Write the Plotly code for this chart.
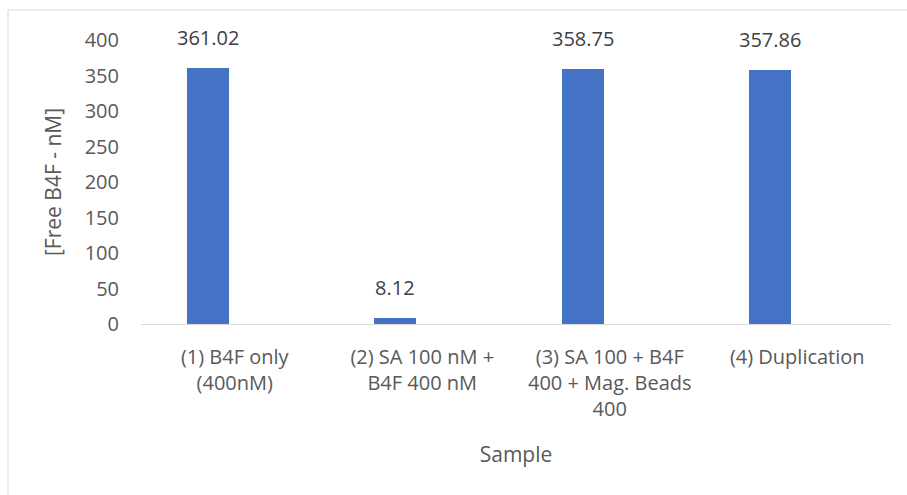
import plotly.graph_objects as go

# Sample categories and measured free B4F concentrations (nM)
categories = [
    "(1) B4F only<br>(400nM)",
    "(2) SA 100 nM +<br>B4F 400 nM",
    "(3) SA 100 + B4F<br>400 + Mag. Beads<br>400",
    "(4) Duplication",
]
free_b4f = [361.02, 8.12, 358.75, 357.86]
y_ticks = [0, 50, 100, 150, 200, 250, 300, 350, 400]

W, H = 907, 495
L, R, T, B = 141, 16, 40, 171

idx = list(range(len(categories)))
bar_shift = -0.143
bar_width = 0.224
bar_x = [i + bar_shift for i in idx]

fig = go.Figure()
fig.add_trace(go.Bar(
    x=bar_x,
    y=free_b4f,
    width=bar_width,
    marker=dict(color="#4472C4", line=dict(width=0)),
    hoverinfo="x+y",
    showlegend=False,
))

# value labels above bars
for xv, yv in zip(bar_x, free_b4f):
    fig.add_annotation(
        x=xv, y=yv, text=f"{yv:.2f}", showarrow=False,
        yanchor="bottom", yshift=15,
        font=dict(family="Open Sans", size=20, color="#404040"),
    )

# chart-area frame (left and top edges)
pw = W - L - R
ph = H - T - B
x_left = (8 - L) / pw
y_top = (H - B - 10) / ph
fig.add_shape(type="line", xref="paper", yref="paper",
              x0=x_left, x1=x_left, y0=y_top, y1=-(B + 5) / ph,
              line=dict(color="#D9D9D9", width=1))
fig.add_shape(type="line", xref="paper", yref="paper",
              x0=x_left, x1=(W + 5 - L) / pw, y0=y_top, y1=y_top,
              line=dict(color="#D9D9D9", width=1))

fig.update_layout(
    width=W, height=H,
    margin=dict(l=L, r=R, t=T, b=B),
    paper_bgcolor="white",
    plot_bgcolor="white",
    font=dict(family="Open Sans", size=20, color="#595959"),
    xaxis=dict(
        range=[-0.5, len(categories) - 0.5],
        tickmode="array", tickvals=idx, ticktext=categories,
        showgrid=False, zeroline=False,
        showline=True, linecolor="#D9D9D9", linewidth=1,
        ticks="", ticklabelstandoff=15,
        tickfont=dict(size=20, color="#595959"),
        title=dict(text="Sample", font=dict(size=21, color="#595959"), standoff=26),
    ),
    yaxis=dict(
        range=[0, 400],
        tickmode="array", tickvals=y_ticks,
        showgrid=False, zeroline=False, showline=False,
        ticks="", ticklabelstandoff=21,
        tickfont=dict(size=20, color="#595959"),
        title=dict(text="[Free B4F - nM]", font=dict(size=21, color="#595959"), standoff=17),
    ),
    bargap=0,
)

fig.write_html("out.html")
